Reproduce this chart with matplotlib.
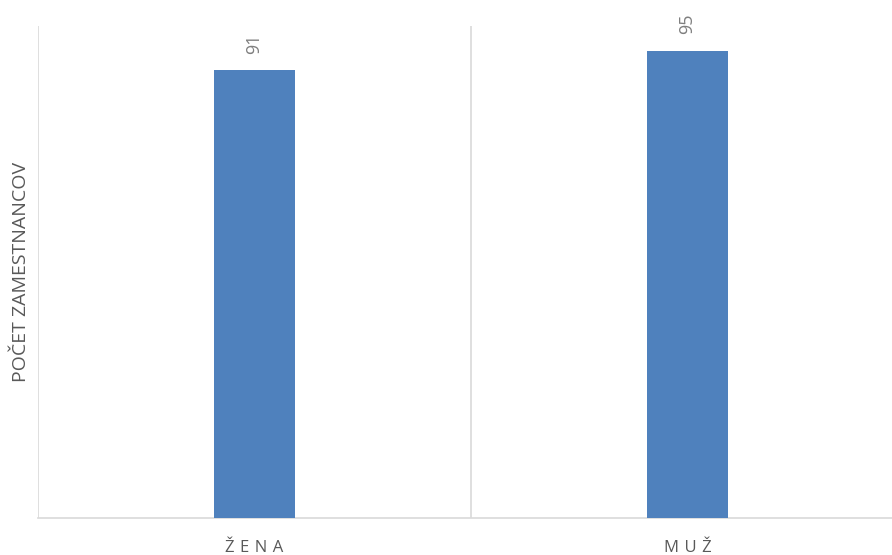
import matplotlib.pyplot as plt

# data
categories = ['ŽENA', 'MUŽ']
values = [91, 95]
tick_labels = ['\u2004'.join(c) for c in categories]  # spaced capitals like the original

bar_color = '#4f81bd'
text_color = '#595959'
value_color = '#7f7f7f'
grid_color = '#d9d9d9'

plt.rcParams['font.family'] = ['Open Sans', 'DejaVu Sans']

fig = plt.figure(figsize=(8.92, 5.55), dpi=100)
# axes runs a bit past the right edge, the original picture is cropped there
ax = fig.add_axes([38 / 892, 37 / 555, 866 / 892, 492 / 555])

x = range(len(categories))
bars = ax.bar(x, values, width=0.185, color=bar_color, zorder=3)

for b, v in zip(bars, values):
    ax.text(b.get_x() + b.get_width() / 2, v + 3.4, str(v), rotation=90,
            ha='center', va='bottom', fontsize=13, color=value_color)

ax.set_xlim(-0.5, 1.5)
ax.set_ylim(0, 100)

# category separators
for xv in [-0.5, 0.5, 1.5]:
    ax.axvline(xv, color=grid_color, lw=1.2, zorder=1)

for s in ['top', 'right', 'left']:
    ax.spines[s].set_visible(False)
ax.spines['bottom'].set_color(grid_color)
ax.spines['bottom'].set_linewidth(1.2)

ax.set_yticks([])
ax.set_xticks(list(x))
ax.set_xticklabels(tick_labels, fontsize=12, color=text_color)
ax.tick_params(axis='x', length=0, pad=16)

ax.set_ylabel('POČET ZAMESTNANCOV', fontsize=14, color=text_color, labelpad=6)

fig.savefig('out.png', dpi=100)
